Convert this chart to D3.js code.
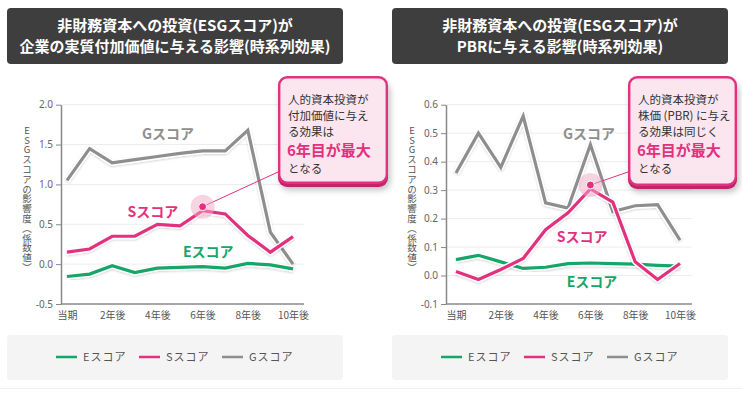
<!DOCTYPE html>
<html>
<head>
<meta charset="utf-8">
<script src="https://cdn.jsdelivr.net/npm/d3@7"></script>
<style>
  html, body { margin: 0; padding: 0; background: #fff; }
  svg { display: block; font-family: "Noto Sans CJK JP", "Noto Sans", sans-serif; }
</style>
</head>
<body>
<svg id="chart" width="742" height="396"></svg>
<script>
// periods on the x axis
const periods = ["当期", "1年後", "2年後", "3年後", "4年後", "5年後", "6年後", "7年後", "8年後", "9年後", "10年後"];
const shownPeriods = ["当期", "2年後", "4年後", "6年後", "8年後", "10年後"];

// left: value added
const vaE = [-0.155, -0.125, -0.02, -0.105, -0.05, -0.04, -0.03, -0.05, 0.01, -0.01, -0.06];
const vaS = [0.15, 0.19, 0.35, 0.35, 0.50, 0.48, 0.67, 0.63, 0.36, 0.15, 0.345];
const vaG = [1.05, 1.45, 1.27, 1.31, 1.35, 1.39, 1.42, 1.42, 1.68, 0.40, 0.0];
const vaTicks = [-0.5, 0, 0.5, 1.0, 1.5, 2.0];

// right: PBR
const pbrE = [0.056, 0.071, 0.048, 0.025, 0.029, 0.042, 0.044, 0.042, 0.040, 0.036, 0.033];
const pbrS = [0.014, -0.014, 0.021, 0.060, 0.161, 0.220, 0.304, 0.258, 0.048, -0.014, 0.042];
const pbrG = [0.36, 0.50, 0.38, 0.56, 0.255, 0.237, 0.46, 0.225, 0.245, 0.249, 0.124];
const pbrTicks = [-0.1, 0, 0.1, 0.2, 0.3, 0.4, 0.5, 0.6];

const seriesNames = ["Eスコア", "Sスコア", "Gスコア"];
const colors = { "Eスコア": "#16a66a", "Sスコア": "#e2317e", "Gスコア": "#8e8e8e" };
const yTitle = "ESGスコアの影響度（係数値）";

const panels = [
  {
    dx: 0,
    title: ["非財務資本への投資(ESGスコア)が", "企業の実質付加価値に与える影響(時系列効果)"],
    data: { "Eスコア": vaE, "Sスコア": vaS, "Gスコア": vaG },
    ticks: vaTicks,
    xRange: [67, 293],
    xEnd: 304,
    // label anchors in data units: [period index, value]
    labels: { "Gスコア": [4.47, 1.64], "Sスコア": [3.8, 0.67], "Eスコア": [6.25, 0.17] },
    peak: 6,
    callout: ["人的資本投資が", "付加価値に与え", "る効果は"],
    box: { x: 278, y: 76, w: 110, h: 108 }
  },
  {
    dx: 385,
    title: ["非財務資本への投資(ESGスコア)が", "PBRに与える影響(時系列効果)"],
    data: { "Eスコア": pbrE, "Sスコア": pbrS, "Gスコア": pbrG },
    ticks: pbrTicks,
    xRange: [71, 295],
    xEnd: 307,
    labels: { "Gスコア": [5.94, 0.50], "Sスコア": [5.63, 0.14], "Eスコア": [6.07, -0.02] },
    peak: 6,
    callout: ["人的資本投資が", "株価 (PBR) に与え", "る効果は同じく"],
    box: { x: 243, y: 76, w: 109, h: 110 }
  }
];

const svg = d3.select("#chart");
const defs = svg.append("defs");
const shadow = defs.append("filter").attr("id", "shadow")
  .attr("x", "-20%").attr("y", "-20%").attr("width", "150%").attr("height", "150%");
shadow.append("feDropShadow").attr("dx", 2).attr("dy", 3).attr("stdDeviation", 3)
  .attr("flood-color", "#000").attr("flood-opacity", 0.25);
const lineShadow = defs.append("filter").attr("id", "lineShadow")
  .attr("x", "-10%").attr("y", "-10%").attr("width", "120%").attr("height", "130%");
lineShadow.append("feDropShadow").attr("dx", 0).attr("dy", 1).attr("stdDeviation", 1)
  .attr("flood-color", "#000").attr("flood-opacity", 0.18);

const fmt = v => d3.format(".1f")(v).replace("−", "-");

panels.forEach(p => {
  const g = svg.append("g").attr("transform", `translate(${p.dx},0)`);

  // title box
  g.append("rect")
    .attr("x", 7).attr("y", 8).attr("width", 336).attr("height", 56)
    .attr("rx", 4).attr("fill", "#3e3e3e");
  p.title.forEach((t, i) => {
    g.append("text")
      .attr("x", 175).attr("y", 31 + i * 21)
      .attr("text-anchor", "middle")
      .attr("fill", "#fff")
      .attr("font-size", "15px")
      .attr("font-weight", "bold")
      .text(t);
  });

  const x = d3.scaleLinear().domain([0, periods.length - 1]).range(p.xRange);
  const y = d3.scaleLinear().domain(d3.extent(p.ticks)).range([304, 104.7]);
  const axisX = 61;

  // grid
  g.append("g").selectAll("line")
    .data(p.ticks.slice(1))
    .join("line")
    .attr("x1", axisX).attr("x2", p.xEnd)
    .attr("y1", d => y(d)).attr("y2", d => y(d))
    .attr("stroke", "#ededed");

  // y axis
  const yAxis = g.append("g")
    .attr("transform", `translate(${axisX},0)`)
    .call(d3.axisLeft(y).tickValues(p.ticks).tickSize(5).tickSizeOuter(0).tickFormat(fmt));
  yAxis.select(".domain").attr("stroke", "#888").attr("stroke-width", 1.5);
  yAxis.selectAll(".tick line").attr("stroke", "#888");
  yAxis.selectAll(".tick text")
    .attr("fill", "#666").attr("font-size", "10px")
    .attr("font-family", "\"Noto Sans\", sans-serif");

  // x axis
  const xAxis = g.append("g")
    .attr("transform", "translate(0,304)")
    .call(d3.axisBottom(x)
      .tickValues(shownPeriods.map(s => periods.indexOf(s)))
      .tickSize(0)
      .tickFormat(i => periods[i]));
  xAxis.select(".domain").remove();
  xAxis.append("line")
    .attr("x1", axisX).attr("x2", p.xEnd)
    .attr("stroke", "#888").attr("stroke-width", 1.5);
  xAxis.selectAll(".tick text")
    .attr("dy", "1.2em")
    .attr("fill", "#555").attr("font-size", "10px")
    .attr("font-family", "\"Noto Sans CJK JP\", sans-serif");

  // y title, vertical writing
  g.append("text")
    .attr("x", 27).attr("y", 199)
    .attr("text-anchor", "middle")
    .style("writing-mode", "vertical-rl")
    .style("text-orientation", "upright")
    .attr("fill", "#555")
    .attr("font-size", "9.5px")
    .attr("letter-spacing", "0.3px")
    .text(yTitle);

  // lines
  const line = d3.line().x((d, i) => x(i)).y(d => y(d));
  ["Gスコア", "Eスコア", "Sスコア"].forEach(name => {
    g.append("path")
      .datum(p.data[name])
      .attr("d", line)
      .attr("fill", "none")
      .attr("stroke", "#fff")
      .attr("stroke-width", 6)
      .attr("stroke-linejoin", "round")
      .attr("filter", "url(#lineShadow)");
    g.append("path")
      .datum(p.data[name])
      .attr("d", line)
      .attr("fill", "none")
      .attr("stroke", colors[name])
      .attr("stroke-width", 3.2);
  });

  // series labels
  seriesNames.forEach(name => {
    const [li, lv] = p.labels[name];
    const t = g.append("text")
      .attr("x", x(li)).attr("y", y(lv))
      .attr("text-anchor", "middle")
      .attr("dominant-baseline", "central")
      .attr("font-size", "14px")
      .attr("font-weight", "bold")
      .text(name);
    t.clone(true).lower().attr("stroke", "#fff").attr("stroke-width", 3).attr("fill", "#fff");
    t.attr("fill", colors[name]);
  });

  // peak marker + connector
  const px = x(p.peak), py = y(p.data["Sスコア"][p.peak]) - 4;
  g.append("line")
    .attr("x1", px).attr("y1", py)
    .attr("x2", p.box.x).attr("y2", p.box.y + 96)
    .attr("stroke", "#e2317e").attr("stroke-width", 1);
  g.append("circle")
    .attr("cx", px).attr("cy", py).attr("r", 12)
    .attr("fill", "#f2a9c8").attr("opacity", 0.5);
  g.append("circle")
    .attr("cx", px).attr("cy", py).attr("r", 4)
    .attr("fill", "#e2317e").attr("stroke", "#fff").attr("stroke-width", 1);

  // callout
  const b = p.box;
  const cg = g.append("g");
  cg.append("rect")
    .attr("x", b.x).attr("y", b.y + 3).attr("width", b.w).attr("height", b.h)
    .attr("rx", 9).attr("fill", "#c4246a").attr("filter", "url(#shadow)");
  cg.append("rect")
    .attr("x", b.x + 1.2).attr("y", b.y + 1.2).attr("width", b.w - 2.4).attr("height", b.h - 2.4)
    .attr("rx", 8).attr("fill", "#fbe6ef").attr("stroke", "#e2317e").attr("stroke-width", 2.4);
  p.callout.forEach((t, i) => {
    cg.append("text")
      .attr("x", b.x + 10).attr("y", b.y + 28 + i * 16)
      .attr("fill", "#333").attr("font-size", "11.5px")
      .text(t);
  });
  cg.append("text")
    .attr("x", b.x + 9).attr("y", b.y + 80)
    .attr("fill", "#e2317e").attr("font-size", "15px").attr("font-weight", "bold")
    .text("6年目が最大");
  cg.append("text")
    .attr("x", b.x + 10).attr("y", b.y + 97)
    .attr("fill", "#333").attr("font-size", "11.5px")
    .text("となる");

  // legend
  g.append("rect")
    .attr("x", 7).attr("y", 335).attr("width", 336).attr("height", 45)
    .attr("rx", 4).attr("fill", "#f4f4f4");
  seriesNames.forEach((name, i) => {
    const lx = 56 + i * 83;
    g.append("line")
      .attr("x1", lx).attr("x2", lx + 21)
      .attr("y1", 357).attr("y2", 357)
      .attr("stroke", colors[name]).attr("stroke-width", 2.5);
    g.append("text")
      .attr("x", lx + 27).attr("y", 361)
      .attr("fill", "#555").attr("font-size", "11px")
      .attr("letter-spacing", "1px")
      .text(name);
  });
});

// thin rule at the bottom
svg.append("line")
  .attr("x1", 0).attr("x2", 742).attr("y1", 388.5).attr("y2", 388.5)
  .attr("stroke", "#f0f0f0");
</script>
</body>
</html>
